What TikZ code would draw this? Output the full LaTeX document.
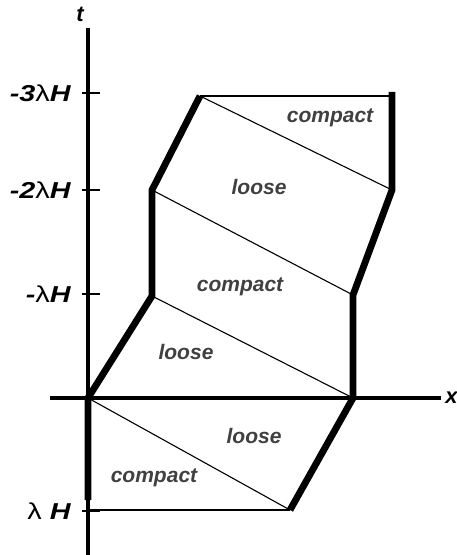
\documentclass[tikz,border=0pt]{standalone}
\usepackage{fontspec}
\setmainfont{Liberation Sans}
\newfontfamily\tickfont[FakeStretch=1.25]{Liberation Sans}
\usetikzlibrary{positioning}

\begin{document}
\begin{tikzpicture}[
    x=0.5pt, y=-0.5pt,
    axis/.style={line width=2pt},
    world/.style={line width=3.4pt},
    link/.style={line width=0.55pt},
    tickmark/.style={line width=0.6pt},
    ticklabel/.style={
        anchor=east,
        inner sep=0pt,
        font=\tickfont\fontsize{11.5}{13}\selectfont\bfseries\itshape
    },
    axislabel/.style={
        inner sep=0pt,
        font=\fontsize{11}{13}\selectfont\bfseries\itshape
    },
    phase/.style={
        inner sep=0pt,
        text=black!75,
        font=\fontsize{10.5}{12}\selectfont\bfseries\itshape
    }
]

\useasboundingbox (0,0) rectangle (456,555);

% axes
\coordinate (O) at (88,398);
\coordinate (tbot) at (88,555);
\coordinate (ttop) at (88,28);
\coordinate (xl) at (50,398);
\coordinate (xr) at (441,398);
\draw[axis] (tbot) -- (ttop);
\draw[axis] (xl) -- (xr);
\node[axislabel] (tlab) at (80,14) {t};
\node[axislabel, anchor=west] (xlab) at (445,398) {x};

% ticks on the t axis
\foreach \y/\lab/\nm in {93/-3{\mdseries\upshape λ}H/m3, 190/-2{\mdseries\upshape λ}H/m2, 294/-{\mdseries\upshape λ}H/m1, 511/{\mdseries\upshape λ} H/p1}{
    \coordinate (tk\nm) at (82,\y);
    \draw[tickmark] (tk\nm) -- ++(18,0);
    \node[ticklabel] (lab\nm) at (71,\y) {\lab};
}

% corners of the two world lines
\coordinate (a1) at (152,296);
\coordinate (a2) at (152,190);
\coordinate (a3) at (200,96);
\coordinate (b0) at (353,398);
\coordinate (b1) at (353,295);
\coordinate (b2) at (392,190);
\coordinate (b3) at (392,92);
\coordinate (c0) at (88,500);
\coordinate (d0) at (290,510);
\coordinate (e0) at (88,510);

% thin links
\draw[link] (a3) -- (a3 -| b3);
\draw[link] (a3) -- (b2);
\draw[link] (a2) -- (b1);
\draw[link] (a1) -- (b0);
\draw[link] (O) -- (d0);
\draw[link] (e0) -- (d0);

% world lines
\draw[world] (c0) -- (O) -- (a1) -- (a2) -- (a3);
\draw[world] (d0) -- (b0) -- (b1) -- (b2) -- (b3);

\node[phase] (c1) at (330,118) {compact};
\node[phase] (l1) at (259,187) {loose};
\node[phase] (c2) at (240,287) {compact};
\node[phase] (l2) at (186,352) {loose};
\node[phase] (l3) at (254,436) {loose};
\node[phase] (c3) at (154,478) {compact};

\end{tikzpicture}
\end{document}
